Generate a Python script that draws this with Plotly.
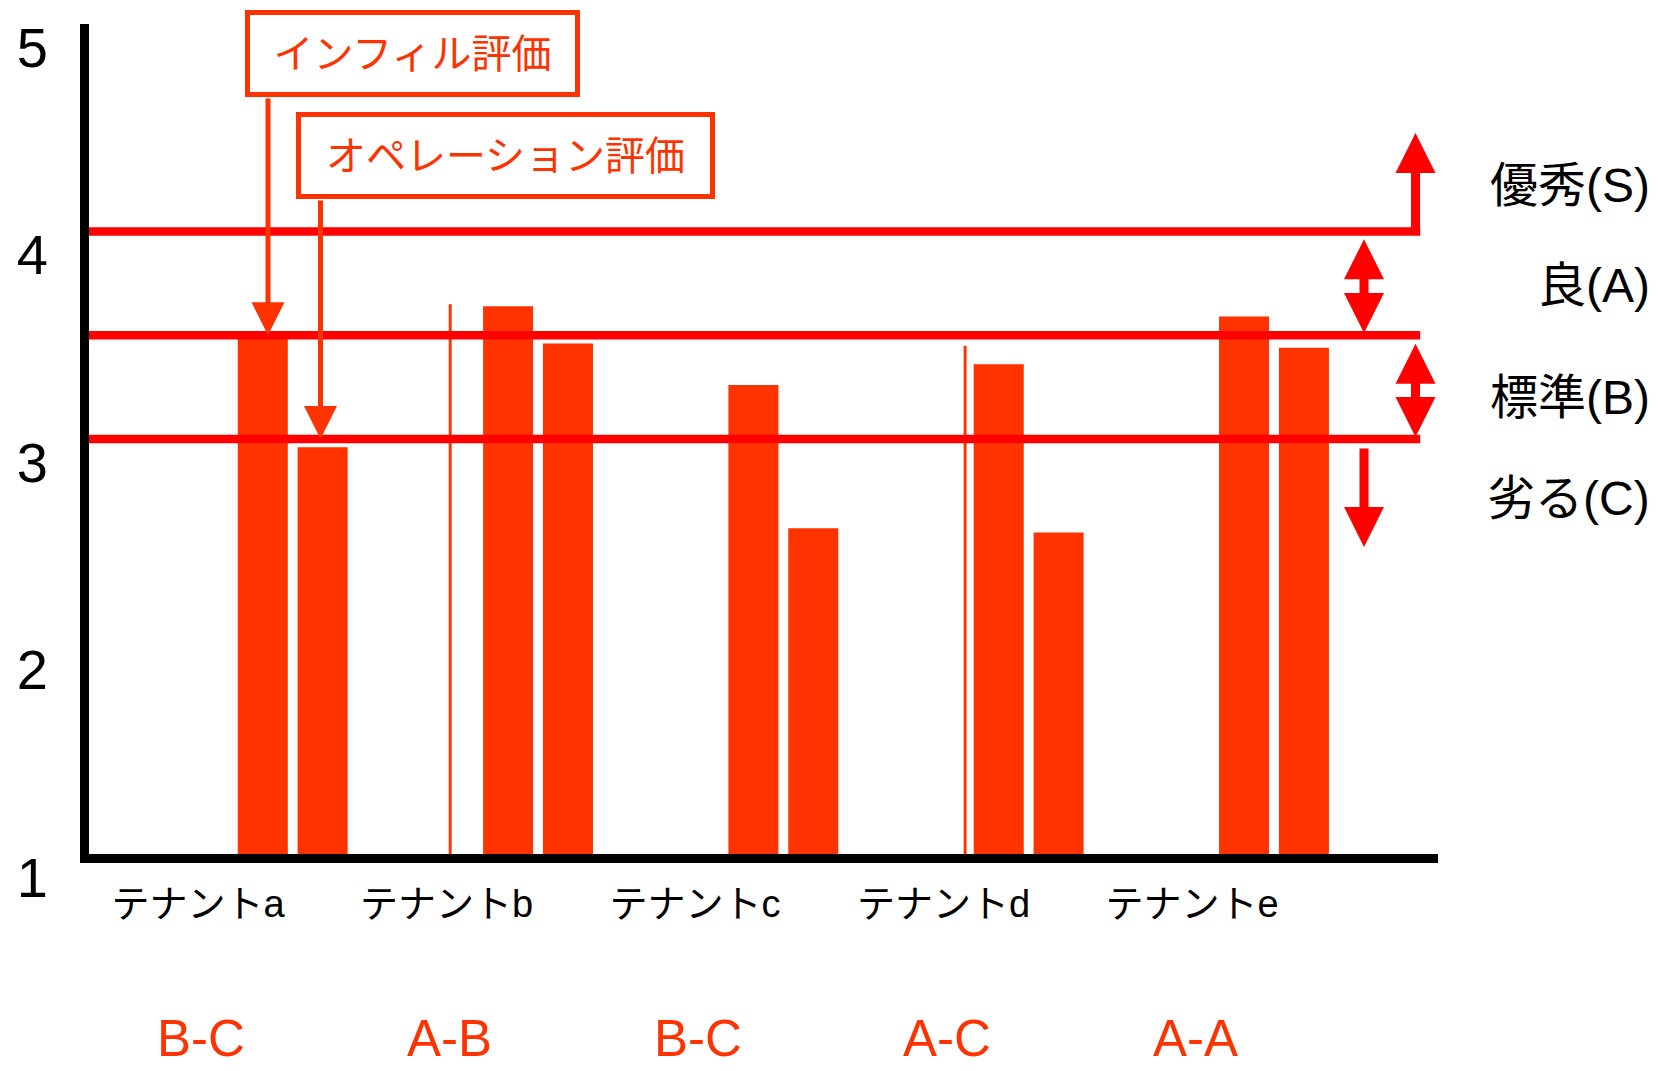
import plotly.graph_objects as go

# ---- data -------------------------------------------------------------
tenants = ["テナントa", "テナントb", "テナントc", "テナントd", "テナントe"]
infill_scores = [3.50, 3.64, 3.26, 3.36, 3.59]       # インフィル評価
operation_scores = [2.96, 3.46, 2.57, 2.55, 3.44]    # オペレーション評価
sliver_scores = [None, 3.65, None, 3.45, None]       # thin leftover strokes
grade_labels = ["B-C", "A-B", "B-C", "A-C", "A-A"]
thresholds = [4.0, 3.5, 3.0]                         # S/A, A/B, B/C borders
band_labels = ["優秀(S)", "良(A)", "標準(B)", "劣る(C)"]
y_ticks = [1, 2, 3, 4, 5]

# ---- styling ------------------------------------------------------------
BAR = "#FF3300"
LINE = "#FF0000"
JP = "Liberation Sans, Noto Sans CJK JP, sans-serif"

idx = list(range(len(tenants)))
x_range = [-0.8304, 4.6686]
label_pos = [i * 1.013 - 0.386 for i in idx]
bar_w = 0.204

fig = go.Figure()
fig.add_trace(go.Bar(x=idx, y=infill_scores, width=bar_w, offset=-0.224,
                     marker=dict(color=BAR, line=dict(width=0)),
                     name="インフィル評価", hoverinfo="skip"))
fig.add_trace(go.Bar(x=idx, y=operation_scores, width=bar_w, offset=0.02,
                     marker=dict(color=BAR, line=dict(width=0)),
                     name="オペレーション評価", hoverinfo="skip"))
fig.add_trace(go.Bar(x=idx, y=sliver_scores, width=0.012,
                     offset=[0, -0.364, 0, -0.265, 0],
                     marker=dict(color=BAR, line=dict(width=0)),
                     hoverinfo="skip"))

line_end = 4.596
shapes = [dict(type="line", xref="x", yref="y", x0=x_range[0], x1=line_end,
               y0=t, y1=t, line=dict(color=LINE, width=8.5), layer="above")
          for t in thresholds]

ann = []
# callout boxes
ann.append(dict(text="インフィル評価", x=0.4884, y=4.858, xref="x", yref="y",
                showarrow=False, width=325, height=77, borderwidth=5, borderpad=0,
                bordercolor=BAR, bgcolor="white",
                font=dict(family=JP, size=40, color=BAR)))
ann.append(dict(text="オペレーション評価", x=0.8675, y=4.366, xref="x", yref="y",
                showarrow=False, width=409, height=77, borderwidth=5, borderpad=0,
                bordercolor=BAR, bgcolor="white",
                font=dict(family=JP, size=40, color=BAR)))
# pointers from the boxes down to the bars
for xa, tail, tip in [(-0.1007, 4.648, thresholds[1]), (0.1133, 4.157, thresholds[2])]:
    ann.append(dict(text="", x=xa, y=tip, ax=xa, ay=tail, xref="x", yref="y",
                    axref="x", ayref="y", showarrow=True, arrowhead=2,
                    arrowwidth=5, arrowsize=1.32, arrowcolor=BAR))

# band arrows on the right
xr1, xr2 = 4.577, 4.367
ann.append(dict(text="", x=xr1, y=4.475, ax=xr1, ay=thresholds[0], xref="x", yref="y",
                axref="x", ayref="y", showarrow=True, arrowhead=2, arrowwidth=9,
                arrowsize=0.889, arrowcolor=LINE))
ann.append(dict(text="", x=xr2, y=3.511, ax=xr2, ay=3.970, xref="x", yref="y",
                axref="x", ayref="y", showarrow=True, arrowhead=2, startarrowhead=2,
                arrowside="end+start", arrowwidth=9, arrowsize=0.889,
                startarrowsize=0.889, arrowcolor=LINE))
ann.append(dict(text="", x=xr1, y=3.010, ax=xr1, ay=3.466, xref="x", yref="y",
                axref="x", ayref="y", showarrow=True, arrowhead=2, startarrowhead=2,
                arrowside="end+start", arrowwidth=9, arrowsize=0.889,
                startarrowsize=0.889, arrowcolor=LINE))
ann.append(dict(text="", x=xr2, y=2.480, ax=xr2, ay=2.961, xref="x", yref="y",
                axref="x", ayref="y", showarrow=True, arrowhead=2, arrowwidth=9,
                arrowsize=0.889, arrowcolor=LINE))

# band names
for txt, yv in zip(band_labels, [4.224, 3.742, 3.202, 2.711]):
    ann.append(dict(text=txt, x=1.159, y=yv, xref="paper", yref="y",
                    xanchor="right", yanchor="middle", showarrow=False,
                    font=dict(family=JP, size=48, color="black")))

# grade pairs under each tenant
for txt, xv in zip(grade_labels, label_pos):
    ann.append(dict(text=txt, x=xv + 0.013, y=-0.222, xref="x", yref="paper",
                    xanchor="center", yanchor="middle", showarrow=False,
                    borderpad=0, font=dict(family=JP, size=51, color=BAR)))

fig.update_layout(
    width=1659, height=1071,
    margin=dict(l=89, r=221, t=24, b=217),
    paper_bgcolor="white", plot_bgcolor="white",
    showlegend=False, barmode="overlay",
    shapes=shapes, annotations=ann,
    xaxis=dict(range=x_range, tickvals=label_pos, ticktext=tenants,
               showline=True, linewidth=9, linecolor="black", showgrid=False,
               zeroline=False, ticks="", ticklabelstandoff=8,
               tickfont=dict(family=JP, size=38, color="black")),
    yaxis=dict(range=[1, 5], tickvals=y_ticks, showline=True, linewidth=9,
               linecolor="black", showgrid=False, zeroline=False, ticks="",
               ticklabelshift=23, ticklabelstandoff=21,
               tickfont=dict(family="Liberation Sans, Arial, sans-serif",
                             size=56, color="black")),
)

fig.write_html("out.html")
